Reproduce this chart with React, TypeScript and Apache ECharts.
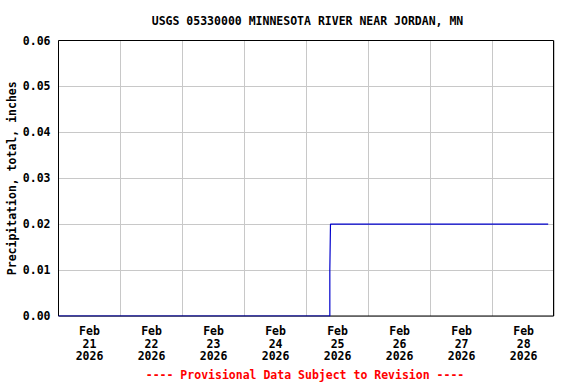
import React, { useEffect, useRef } from "react";
import * as echarts from "echarts";

const titleText = "USGS 05330000 MINNESOTA RIVER NEAR JORDAN, MN";
const yAxisName = "Precipitation, total, inches";
const footerText = "---- Provisional Data Subject to Revision ----";

// Cumulative precipitation readings (clock times)
const obsTimes = [
  "2026-02-21T00:00",
  "2026-02-25T09:00",
  "2026-02-25T09:15",
  "2026-02-28T21:30",
];
const obsValues = [0.0, 0.01, 0.02, 0.02];

const labelDays = ["21", "22", "23", "24", "25", "26", "27", "28"];
const labelMonth = "Feb";
const labelYear = "2026";

const yTicks = [0, 0.01, 0.02, 0.03, 0.04, 0.05, 0.06];

const DAY = 86400000;
const toMs = (s: string) => {
  const [d, t] = s.split("T");
  const [y, m, dd] = d.split("-").map(Number);
  const [hh, mm] = t.split(":").map(Number);
  return Date.UTC(y, m - 1, dd, hh, mm);
};

export default function App() {
  const ref = useRef<HTMLDivElement>(null);
  useEffect(() => {
    document.body.style.margin = "0";
    if (!ref.current) return;
    const chart = echarts.init(ref.current, null, { renderer: "svg" });
    const xMin = Date.UTC(2026, 1, 21);
    const xMax = Date.UTC(2026, 1, 28, 23, 45);
    const noonTicks = labelDays.map((d) => Date.UTC(2026, 1, Number(d), 12));
    const font = "DejaVu Sans Mono";
    chart.setOption({
      animation: false,
      backgroundColor: "#ffffff",
      textStyle: { fontFamily: font },
      title: {
        text: titleText,
        left: 302.5,
        top: 10,
        textAlign: "center",
        textStyle: { fontFamily: font, fontSize: 11.5, fontWeight: "bold", color: "#000" },
      },
      grid: {
        left: 58.5,
        right: 22,
        top: 40.5,
        bottom: 68,
        show: false,
        containLabel: false,
        outerBoundsMode: "none",
      },
      xAxis: [
        {
          type: "value",
          min: xMin,
          max: xMax,
          interval: DAY,
          axisLine: { show: false },
          axisTick: { show: false },
          axisLabel: { show: false },
          splitLine: { show: true, lineStyle: { color: "#c8c8c8", width: 1 } },
        },
        {
          type: "value",
          min: xMin,
          max: xMax,
          position: "bottom",
          axisLine: { show: false },
          axisTick: { show: false },
          splitLine: { show: false },
          axisLabel: {
            show: true,
            customValues: noonTicks,
            margin: 9,
            fontFamily: font,
            fontSize: 11.5,
            fontWeight: "bold",
            color: "#000",
            lineHeight: 12.5,
            formatter: (v: number) => {
              const d = new Date(v);
              return `${labelMonth}\n${String(d.getUTCDate())}\n${labelYear}`;
            },
          },
        },
      ],
      yAxis: {
        type: "value",
        min: 0,
        max: 0.06,
        interval: 0.01,
        name: yAxisName,
        nameLocation: "middle",
        nameGap: 41,
        nameRotate: 90,
        nameMoveOverlap: false,
        nameTextStyle: { fontFamily: font, fontSize: 11.5, fontWeight: "bold", color: "#000" },
        axisLine: { show: false },
        axisTick: { show: false },
        axisLabel: {
          margin: 8,
          fontFamily: font,
          fontSize: 11.5,
          fontWeight: "bold",
          color: "#000",
          formatter: (v: number) => {
            const idx = yTicks.findIndex((t) => Math.abs(t - v) < 1e-9);
            return (idx >= 0 ? yTicks[idx] : v).toFixed(2);
          },
        },
        splitLine: { show: true, lineStyle: { color: "#c8c8c8", width: 1 } },
      },
      graphic: [
        {
          type: "rect",
          shape: { x: 58.5, y: 40.5, width: 495, height: 275.5 },
          style: { fill: "none", stroke: "#000", lineWidth: 1 },
          z: 3,
          silent: true,
        },
        {
          type: "text",
          x: 305,
          y: 369,
          style: {
            text: footerText,
            fill: "#ff0000",
            font: `bold 11.5px "${font}"`,
            textAlign: "center",
          },
        },
      ],
      series: [
        {
          type: "line",
          xAxisIndex: 0,
          step: "end",
          symbol: "none",
          data: obsTimes.map((t, i) => [toMs(t), obsValues[i]]),
          lineStyle: { color: "#0000cc", width: 1.2 },
          z: 5,
        },
      ],
    });
    return () => chart.dispose();
  }, []);
  return <div ref={ref} style={{ width: 576, height: 384 }} />;
}
